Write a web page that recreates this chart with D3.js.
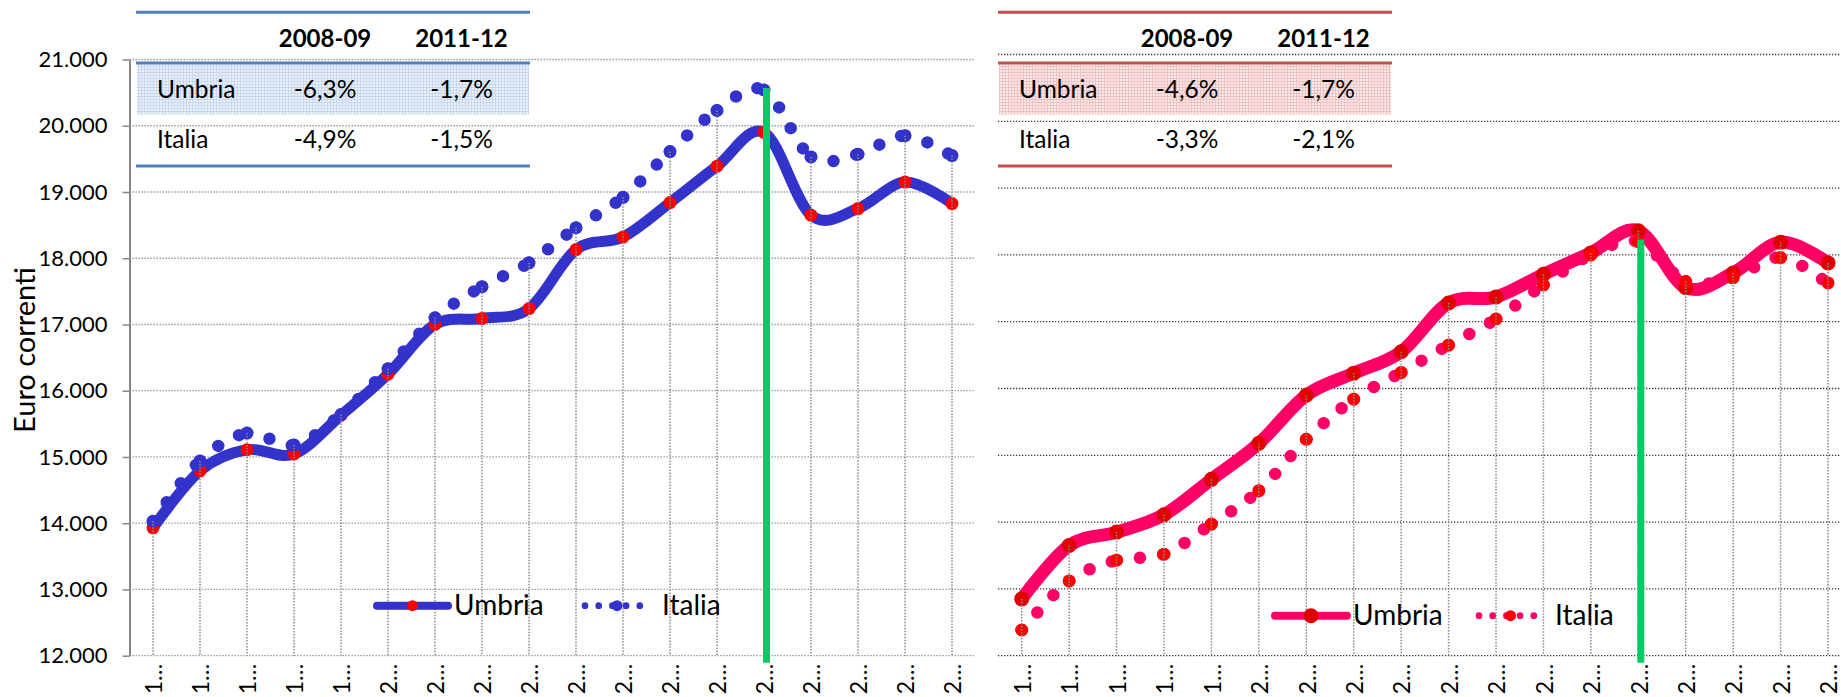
<!DOCTYPE html>
<html>
<head>
<meta charset="utf-8">
<script src="https://cdn.jsdelivr.net/npm/d3@7"></script>
<style>
  body { margin: 0; background: #fff; }
  svg { display: block; font-family: Lato, "Open Sans", sans-serif; }
</style>
</head>
<body>
<svg id="chart" width="1841" height="697"></svg>
<script>
// ---- data ----
var years = ["1995", "1996", "1997", "1998", "1999", "2000", "2001", "2002", "2003",
  "2004", "2005", "2006", "2007", "2008", "2009", "2010", "2011", "2012"];
var markYear = "2008";
var yTicks = [12000, 13000, 14000, 15000, 16000, 17000, 18000, 19000, 20000, 21000];

var umbriaLeft = [13930, 14790, 15110, 15045, 15630, 16250, 17000, 17090, 17240,
  18130, 18320, 18840, 19390, 19900, 18650, 18750, 19150, 18825];
var italiaLeft = [14030, 14940, 15360, 15180, 15640, 16330, 17100, 17570, 17930,
  18460, 18920, 19610, 20230, 20540, 19530, 19570, 19850, 19550];

var umbriaRight = [12850, 13650, 13850, 14110, 14640, 15180, 15900, 16230, 16550,
  17280, 17370, 17710, 18030, 18360, 17510, 17730, 18190, 17880];
var italiaRight = [12385, 13120, 13430, 13520, 13970, 14470, 15240, 15840, 16240,
  16650, 17040, 17550, 18000, 18200, 17600, 17660, 17960, 17580];

var tableHeader = ["", "2008-09", "2011-12"];
var tableLeft = [["Umbria", "-6,3%", "-1,7%"], ["Italia", "-4,9%", "-1,5%"]];
var tableRight = [["Umbria", "-4,6%", "-1,7%"], ["Italia", "-3,3%", "-2,1%"]];

var seriesNames = ["Umbria", "Italia"];

// ---- setup ----
var svg = d3.select("#chart");
var itLocale = d3.formatLocale({ decimal: ",", thousands: ".", grouping: [3], currency: ["", " €"] });
var fmt = itLocale.format(",.0f");

var defs = svg.append("defs");

function addPattern(id, bg, fg) {
  var p = defs.append("pattern")
    .attr("id", id)
    .attr("width", 3).attr("height", 3)
    .attr("patternUnits", "userSpaceOnUse");
  p.append("rect").attr("width", 3).attr("height", 3).attr("fill", bg);
  p.append("rect").attr("width", 3).attr("height", 1).attr("fill", fg);
  p.append("rect").attr("width", 1).attr("height", 3).attr("fill", fg);
}
addPattern("blueGrid", "#EAF0F8", "#C9D8EE");
addPattern("redGrid", "#F9E8E8", "#EDC3C3");

// one smoothed segment (same maths as curveCardinal, tension 0),
// so the dot pattern restarts at every data point like Excel does
function segmentPath(pts, i) {
  var n = pts.length, k = 1 / 6;
  var p0 = pts[Math.max(i - 1, 0)], p1 = pts[i], p2 = pts[i + 1], p3 = pts[Math.min(i + 2, n - 1)];
  var path = d3.path();
  path.moveTo(p1[0], p1[1]);
  path.bezierCurveTo(
    p1[0] + k * (p2[0] - p0[0]), p1[1] + k * (p2[1] - p0[1]),
    p2[0] - k * (p3[0] - p1[0]), p2[1] - k * (p3[1] - p1[1]),
    p2[0], p2[1]);
  return path.toString();
}

// ---- one panel ----
function drawPanel(p) {
  var x = d3.scaleBand().domain(years).range(p.xRange);
  var y = d3.scaleLinear().domain([12000, 21000]).range(p.yRange);
  var cx = function (d) { return x(d) + x.bandwidth() / 2; };

  var g = svg.append("g");

  // horizontal gridlines
  g.selectAll(".hgrid")
    .data(yTicks)
    .enter().append("line")
    .attr("class", "hgrid")
    .attr("x1", p.xRange[0])
    .attr("x2", p.gridEnd)
    .attr("y1", d => y(d))
    .attr("y2", d => y(d))
    .attr("stroke", p.gridColor)
    .attr("stroke-width", 1.3)
    .attr("stroke-dasharray", "1.3,1.7");

  if (p.showAxis) {
    var axis = g.append("g")
      .attr("transform", "translate(" + p.xRange[0] + ",0)")
      .call(d3.axisLeft(y).tickValues(yTicks).tickFormat(fmt).tickSize(7).tickSizeOuter(0));
    axis.select(".domain").attr("stroke", "#868686").attr("stroke-width", 2);
    axis.selectAll(".tick line").attr("stroke", "#868686").attr("stroke-width", 1.5);
    axis.selectAll(".tick text")
      .attr("x", -22)
      .attr("font-family", "Lato, sans-serif")
      .attr("font-size", 22)
      .attr("fill", "#000");
  }

  var line = d3.line()
    .x((d, i) => cx(years[i]))
    .y(d => y(d))
    .curve(d3.curveCardinal);

  // Umbria: thick smoothed line + markers
  g.append("path")
    .datum(p.umbria)
    .attr("d", line)
    .attr("fill", "none")
    .attr("stroke", p.umbriaColor)
    .attr("stroke-width", p.umbriaWidth)
    .attr("stroke-linecap", "round");

  g.selectAll(".umMark")
    .data(p.umbria)
    .enter().append("circle")
    .attr("class", "umMark")
    .attr("cx", (d, i) => cx(years[i]))
    .attr("cy", d => y(d))
    .attr("r", p.umbriaMarkR)
    .attr("fill", p.umbriaMark);

  // Italia: round-dot smoothed line, drawn per segment, + markers
  var itPts = p.italia.map((d, i) => [cx(years[i]), y(d)]);
  g.selectAll(".itSeg")
    .data(d3.range(itPts.length - 1))
    .enter().append("path")
    .attr("class", "itSeg")
    .attr("d", i => segmentPath(itPts, i))
    .attr("fill", "none")
    .attr("stroke", p.italiaColor)
    .attr("stroke-width", 12.5)
    .attr("stroke-linecap", "round")
    .attr("stroke-dasharray", "0,23.5");

  g.selectAll(".itMark")
    .data(p.italia)
    .enter().append("circle")
    .attr("class", "itMark")
    .attr("cx", (d, i) => cx(years[i]))
    .attr("cy", d => y(d))
    .attr("r", 6.5)
    .attr("fill", p.italiaMark);

  // drop lines
  g.selectAll(".drop")
    .data(years)
    .enter().append("line")
    .attr("class", "drop")
    .attr("x1", d => cx(d))
    .attr("x2", d => cx(d))
    .attr("y1", (d, i) => y(Math.max(p.umbria[i], p.italia[i])))
    .attr("y2", y(12000))
    .attr("stroke", "#8a8a8a")
    .attr("stroke-width", 1.5)
    .attr("stroke-dasharray", "1.5,1.5");

  // green marker line on 2008
  var gi = years.indexOf(markYear);
  var gTop = y(p.italia[gi]) - 2;
  g.append("rect")
    .attr("x", cx(markYear) - 1)
    .attr("width", 7)
    .attr("y", gTop)
    .attr("height", y(12000) + 7 - gTop)
    .attr("fill", "#00CC66");

  // category labels
  g.selectAll(".xlab")
    .data(years)
    .enter().append("text")
    .attr("class", "xlab")
    .attr("transform", d => "translate(" + (cx(d) + 1) + "," + (y(12000) + 8) + ") rotate(-90)")
    .attr("text-anchor", "end")
    .attr("dy", "0.36em")
    .attr("font-size", 23)
    .text(d => d.charAt(0) + "\u2026");
}

// ---- legend ----
function drawLegend(l) {
  var g = svg.append("g");
  g.append("line")
    .attr("x1", l.umX[0]).attr("x2", l.umX[1])
    .attr("y1", l.y).attr("y2", l.y)
    .attr("stroke", l.umbriaColor)
    .attr("stroke-width", 8)
    .attr("stroke-linecap", "round");
  g.append("circle")
    .attr("cx", (l.umX[0] + l.umX[1]) / 2)
    .attr("cy", l.y)
    .attr("r", l.umMarkR)
    .attr("fill", l.umbriaMark);
  g.append("text")
    .attr("x", l.umX[1] + 6)
    .attr("y", l.y + 9.5)
    .attr("font-size", 28)
    .text(seriesNames[0]);

  g.append("line")
    .attr("x1", l.itX[0]).attr("x2", l.itX[1])
    .attr("y1", l.y).attr("y2", l.y)
    .attr("stroke", l.italiaColor)
    .attr("stroke-width", 6.7)
    .attr("stroke-linecap", "round")
    .attr("stroke-dasharray", "0,13.7");
  g.append("circle")
    .attr("cx", (l.itX[0] + l.itX[1]) / 2 + 4)
    .attr("cy", l.y)
    .attr("r", 5.5)
    .attr("fill", l.italiaMark);
  g.append("text")
    .attr("x", l.itX[1] + 21)
    .attr("y", l.y + 9.5)
    .attr("font-size", 28)
    .text(seriesNames[1]);
}

// ---- small table ----
function drawTable(x0, rows, lineColor, patternId) {
  var w = 394;
  var colX = [x0 + 21, x0 + 189, x0 + 325.5];
  var g = svg.append("g");

  g.append("rect")
    .attr("x", x0 + 1).attr("y", 64.5)
    .attr("width", w - 2).attr("height", 50)
    .attr("fill", "url(#" + patternId + ")");

  [12.3, 63, 166].forEach(function (ly) {
    g.append("line")
      .attr("x1", x0).attr("x2", x0 + w)
      .attr("y1", ly).attr("y2", ly)
      .attr("stroke", lineColor)
      .attr("stroke-width", 3);
  });

  g.selectAll(".th")
    .data(tableHeader)
    .enter().append("text")
    .attr("x", (d, i) => colX[i])
    .attr("y", 47)
    .attr("text-anchor", (d, i) => i == 0 ? "start" : "middle")
    .attr("font-size", 24)
    .attr("font-weight", "bold")
    .text(d => d);

  rows.forEach(function (row, r) {
    g.selectAll(".td" + r)
      .data(row)
      .enter().append("text")
      .attr("x", (d, i) => colX[i])
      .attr("y", 98 + r * 50)
      .attr("text-anchor", (d, i) => i == 0 ? "start" : "middle")
      .attr("font-size", (d, i) => i == 0 ? 24.5 : 24.5)
      .text(d => d);
  });
}

// ---- draw ----
drawPanel({
  xRange: [129.5, 975.5], yRange: [655.7, 59.5], gridEnd: 975.5,
  gridColor: "#8c8c8c", showAxis: true,
  umbria: umbriaLeft, italia: italiaLeft,
  umbriaColor: "#3333CC", umbriaWidth: 11, umbriaMark: "#FF0000", umbriaMarkR: 6.5,
  italiaColor: "#3333CC", italiaMark: "#3333CC"
});

drawPanel({
  xRange: [998, 998 + 18 * 47.43], yRange: [655.7, 54.5], gridEnd: 1841,
  gridColor: "#3a3a3a", showAxis: false,
  umbria: umbriaRight, italia: italiaRight,
  umbriaColor: "#FF0066", umbriaWidth: 13, umbriaMark: "#E00000", umbriaMarkR: 7.5,
  italiaColor: "#FF0066", italiaMark: "#FF0000"
});

drawLegend({
  y: 605.7, umX: [377, 448], itX: [585, 641],
  umbriaColor: "#3333CC", umbriaMark: "#FF0000", umMarkR: 5.5,
  italiaColor: "#3333CC", italiaMark: "#3333CC"
});

drawLegend({
  y: 615.7, umX: [1275, 1347], itX: [1479, 1534],
  umbriaColor: "#FF0066", umbriaMark: "#E00000", umMarkR: 7.5,
  italiaColor: "#FF0066", italiaMark: "#FF0000"
});

drawTable(136, tableLeft, "#4F81BD", "blueGrid");
drawTable(998, tableRight, "#C0504D", "redGrid");

// y-axis title
svg.append("text")
  .attr("transform", "translate(35,350) rotate(-90)")
  .attr("text-anchor", "middle")
  .attr("font-size", 29)
  .text("Euro correnti");
</script>
</body>
</html>
